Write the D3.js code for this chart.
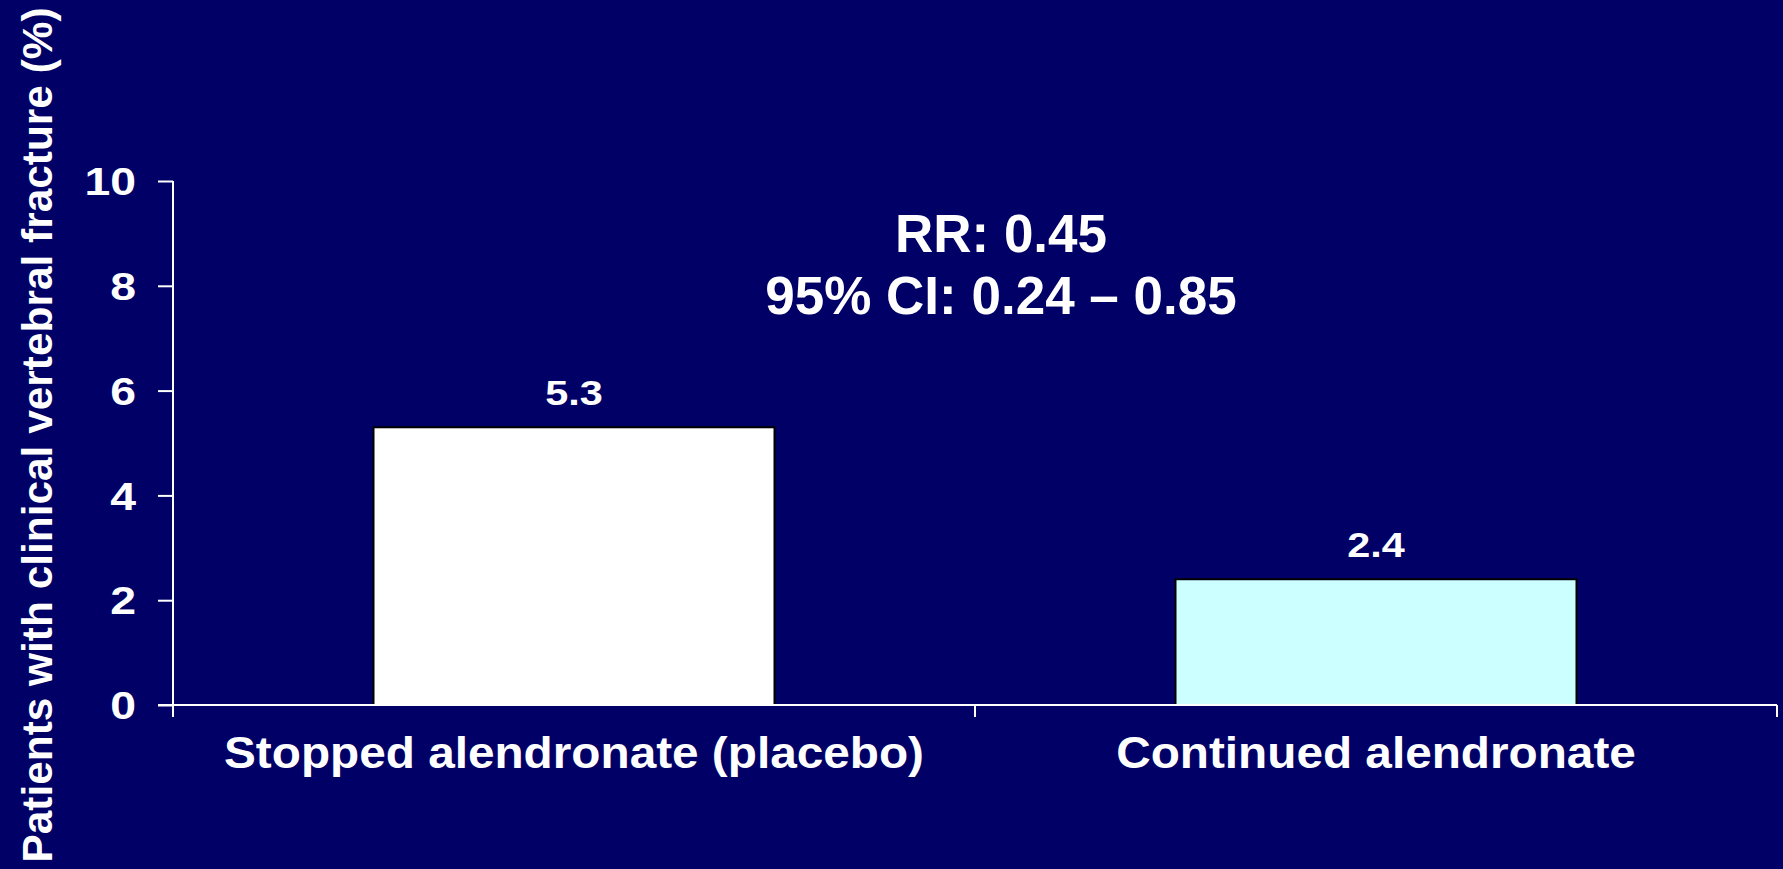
<!DOCTYPE html>
<html>
<head>
<meta charset="utf-8">
<script src="https://cdn.jsdelivr.net/npm/d3@7"></script>
<style>
  html, body { margin: 0; padding: 0; background: #000066; }
  svg { display: block; }
  text { font-family: "Liberation Sans", Arial, Helvetica, sans-serif; font-weight: bold; fill: #ffffff; }
</style>
</head>
<body>
<svg id="chart" width="1783" height="869"></svg>
<script>
// Clinical vertebral fracture rates by treatment arm
const categories = ["Stopped alendronate (placebo)", "Continued alendronate"];
const values = [5.3, 2.4];
const barColors = ["#ffffff", "#ccffff"];
const yTicks = [0, 2, 4, 6, 8, 10];
const statLines = ["RR: 0.45", "95% CI: 0.24 \u2013 0.85"];
const yTitle = "Patients with clinical vertebral fracture (%)";

const W = 1783, H = 869;
const plot = { left: 173, right: 1777, top: 181, bottom: 705 };

const svg = d3.select("#chart");
svg.append("rect").attr("width", W).attr("height", H).attr("fill", "#000066");

const x = d3.scaleBand()
  .domain(categories)
  .range([plot.left, plot.right])
  .paddingInner(0.5)
  .paddingOuter(0.25);

const y = d3.scaleLinear().domain([0, 10]).range([plot.bottom, plot.top]);

// Bars
svg.selectAll("rect.bar")
  .data(categories)
  .join("rect")
  .attr("class", "bar")
  .attr("x", d => x(d))
  .attr("y", (d, i) => y(values[i]))
  .attr("width", x.bandwidth())
  .attr("height", (d, i) => y(0) - y(values[i]))
  .attr("fill", (d, i) => barColors[i])
  .attr("stroke", "#000000")
  .attr("stroke-width", 2);

// Value labels above bars (slightly widened glyphs)
svg.selectAll("text.val")
  .data(categories)
  .join("text")
  .attr("class", "val")
  .attr("transform", (d, i) => `translate(${x(d) + x.bandwidth() / 2},${y(values[i]) - 22}) scale(1.15,1)`)
  .attr("text-anchor", "middle")
  .attr("font-size", 36)
  .text((d, i) => values[i].toFixed(1));

// Y axis
const yAxis = d3.axisLeft(y).tickValues(yTicks).tickSize(15).tickPadding(22).tickFormat(d3.format("d"));
const gy = svg.append("g").attr("transform", `translate(${plot.left},0)`).call(yAxis);
gy.select(".domain").remove();
gy.selectAll(".tick line").attr("stroke", "#ffffff").attr("stroke-width", 2);
gy.selectAll(".tick text")
  .attr("x", 0)
  .attr("transform", "translate(-37,0) scale(1.22,1)")
  .attr("font-size", 38)
  .attr("font-family", "Liberation Sans, Arial, sans-serif")
  .attr("font-weight", "bold")
  .attr("fill", "#ffffff")
  .attr("dy", "0.36em");
gy.append("line")
  .attr("x1", 0).attr("x2", 0)
  .attr("y1", plot.top).attr("y2", plot.bottom + 12)
  .attr("stroke", "#ffffff").attr("stroke-width", 2);

// X axis with ticks at band boundaries
const gx = svg.append("g");
gx.append("line")
  .attr("x1", plot.left - 15).attr("x2", plot.right)
  .attr("y1", plot.bottom).attr("y2", plot.bottom)
  .attr("stroke", "#ffffff").attr("stroke-width", 2);
const boundaries = categories.slice(1).map(c => x(c) - x.step() * x.paddingInner() / 2).concat([plot.right]);
gx.selectAll("line.xt")
  .data(boundaries)
  .join("line")
  .attr("class", "xt")
  .attr("x1", d => d).attr("x2", d => d)
  .attr("y1", plot.bottom).attr("y2", plot.bottom + 12)
  .attr("stroke", "#ffffff").attr("stroke-width", 2);

// Category labels
svg.selectAll("text.cat")
  .data(categories)
  .join("text")
  .attr("class", "cat")
  .attr("transform", d => `translate(${x(d) + x.bandwidth() / 2},768) scale(1.085,1)`)
  .attr("text-anchor", "middle")
  .attr("font-size", 44)
  .text(d => d);

// Y axis title
svg.append("text")
  .attr("transform", "translate(52,435) rotate(-90)")
  .attr("text-anchor", "middle")
  .attr("font-size", 42.4)
  .text(yTitle);

// Relative risk annotation
svg.selectAll("text.stat")
  .data(statLines)
  .join("text")
  .attr("class", "stat")
  .attr("x", 1001)
  .attr("y", (d, i) => 252 + i * 62)
  .attr("text-anchor", "middle")
  .attr("font-size", 53)
  .text(d => d);
</script>
</body>
</html>
